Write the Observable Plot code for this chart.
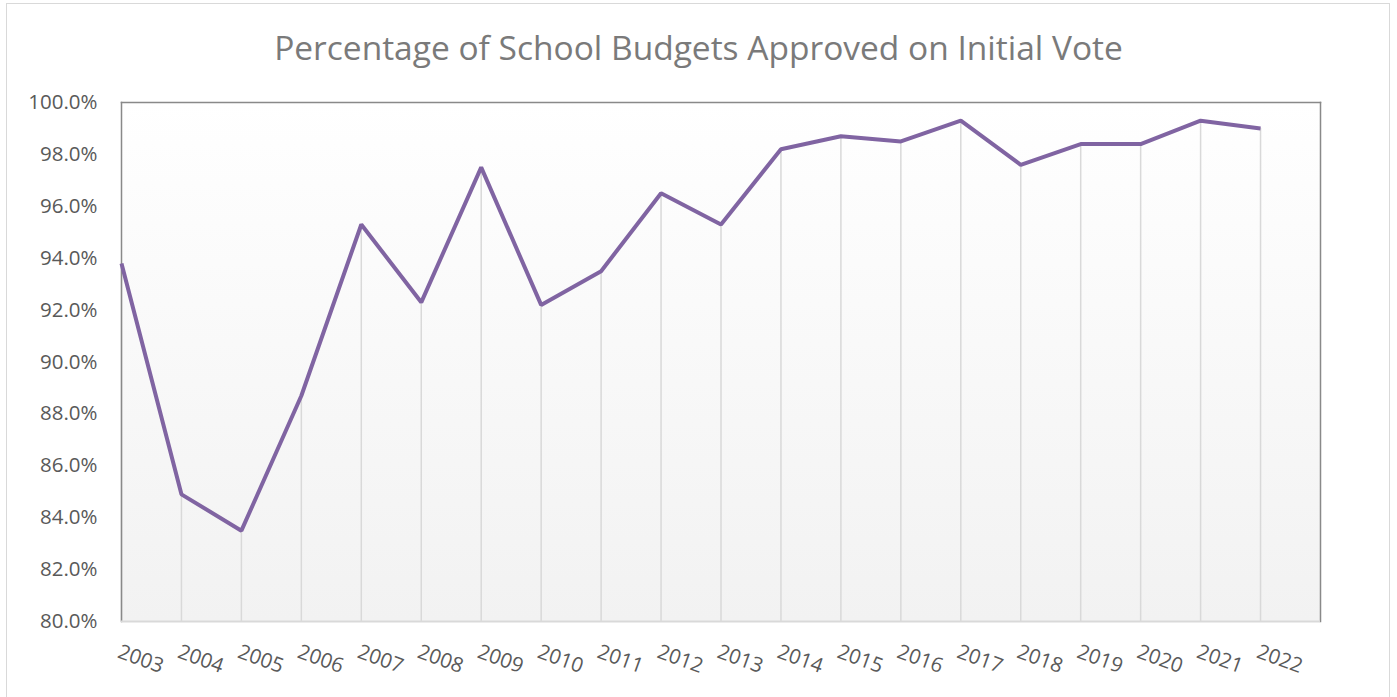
<!DOCTYPE html>
<html>
<head>
<meta charset="utf-8">
<script src="https://cdn.jsdelivr.net/npm/d3@7"></script>
<script src="https://cdn.jsdelivr.net/npm/@observablehq/plot@0.6"></script>
<style>
  html, body { margin: 0; padding: 0; background: #fff; }
  #wrap { position: relative; width: 1397px; height: 697px; overflow: hidden; font-family: "Open Sans", sans-serif; }
  #border { position: absolute; left: 6px; top: 3px; width: 1384px; height: 720px; border: 1.5px solid #d9d9d9; box-sizing: border-box; }
  #title { position: absolute; left: 0; top: 27px; width: 1397px; text-align: center; font-size: 33.5px; line-height: 40px; color: #7a7a7a; }
  #chart { position: absolute; left: 0; top: 80px; }
</style>
</head>
<body>
<div id="wrap">
  <div id="border"></div>
  <div id="title">Percentage of School Budgets Approved on Initial Vote</div>
  <div id="chart"></div>
</div>
<script>
const years = [2003, 2004, 2005, 2006, 2007, 2008, 2009, 2010, 2011, 2012, 2013, 2014, 2015, 2016, 2017, 2018, 2019, 2020, 2021, 2022];
const approved = [93.8, 84.9, 83.5, 88.7, 95.3, 92.3, 97.5, 92.2, 93.5, 96.5, 95.3, 98.2, 98.7, 98.5, 99.3, 97.6, 98.4, 98.4, 99.3, 99.0];
const yTicks = [80, 82, 84, 86, 88, 90, 92, 94, 96, 98, 100];

const data = years.map((y, i) => ({year: y, value: approved[i]}));

const W = 1397, H = 617;
const plot = Plot.plot({
  width: W,
  height: H,
  marginLeft: 121,
  marginRight: 77,
  marginTop: 22,
  marginBottom: 76,
  style: {fontFamily: "Open Sans, sans-serif", background: "transparent", overflow: "visible"},
  x: {type: "linear", domain: [2003, 2023], axis: null},
  y: {domain: [80, 100], axis: null},
  marks: [
    Plot.frame({fill: "url(#bggrad)", stroke: "none"}),
    Plot.ruleX(data, {x: "year", y1: 80, y2: "value", stroke: "#d9d9d9", strokeWidth: 1.5}),
    Plot.frame({anchor: "top", stroke: "#898989", strokeWidth: 1.5}),
    Plot.frame({anchor: "left", stroke: "#898989", strokeWidth: 1.5}),
    Plot.frame({anchor: "right", stroke: "#898989", strokeWidth: 1.5}),
    Plot.ruleY([80], {stroke: "#d9d9d9", strokeWidth: 2}),
    Plot.line(data, {x: "year", y: "value", stroke: "#8064a2", strokeWidth: 4, strokeLinejoin: "miter", strokeLinecap: "butt"}),
    Plot.text(yTicks, {x: 2003, y: d => d, text: d => d.toFixed(1) + "%", textAnchor: "end", dx: -24, fill: "#595959", fontSize: 20.5}),
    Plot.text(years, {x: d => d, y: 80, text: d => String(d), rotate: 20, textAnchor: "start", lineAnchor: "top", dx: 0, dy: 22, fill: "#595959", fontSize: 20.5})
  ]
});

const svg = d3.select(plot);
const defs = svg.insert("defs", ":first-child");
const g = defs.append("linearGradient").attr("id", "bggrad").attr("x1", 0).attr("y1", 0).attr("x2", 0).attr("y2", 1);
g.append("stop").attr("offset", "0%").attr("stop-color", "#ffffff");
g.append("stop").attr("offset", "100%").attr("stop-color", "#f2f2f2");

document.getElementById("chart").appendChild(plot);
</script>
</body>
</html>
